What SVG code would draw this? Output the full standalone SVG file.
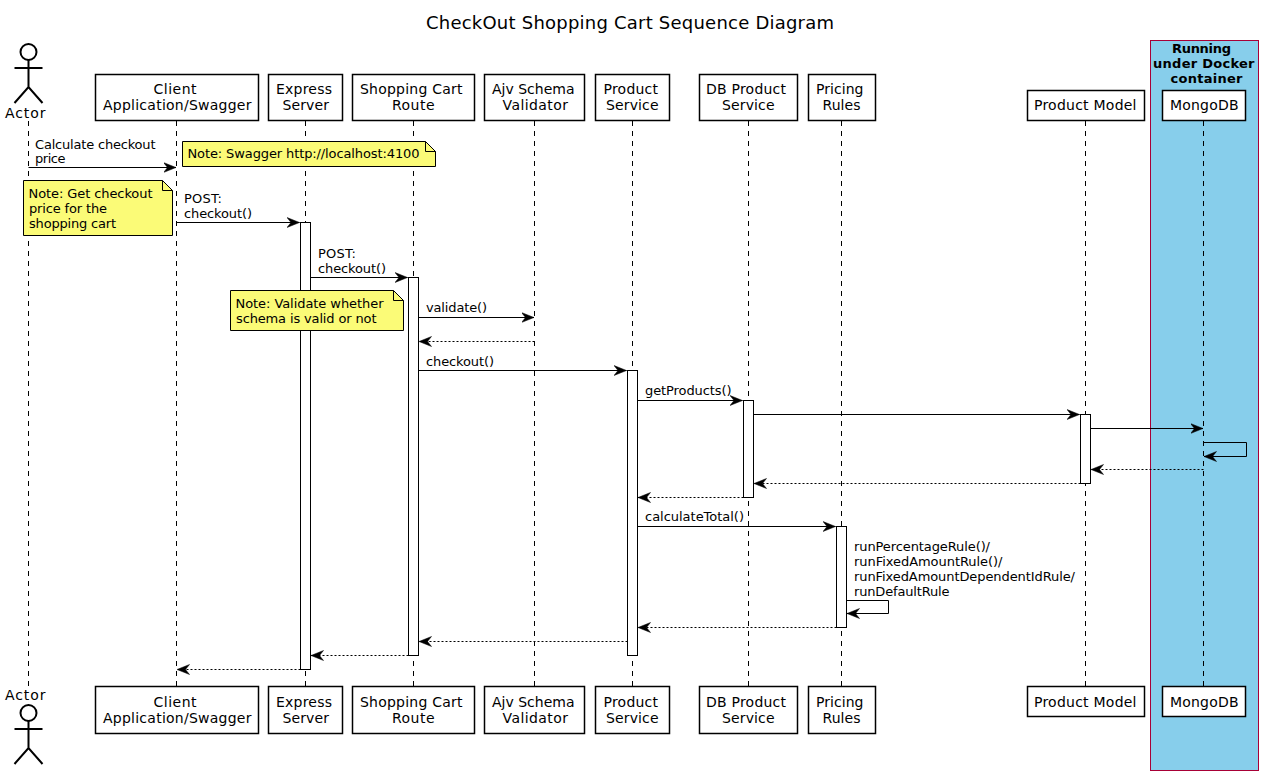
<svg xmlns="http://www.w3.org/2000/svg" width="1263" height="775" viewBox="0 0 1263 775">
<style>
text{font-family:"DejaVu Sans",sans-serif;fill:#000}
.p{font-size:14px}
.m{font-size:13px}
.title{font-size:18px}
.bx{font-size:13px;font-weight:bold}
.box{fill:#fff;stroke:#000;stroke-width:1.5}
.life{stroke:#000;stroke-width:1;stroke-dasharray:5 5;fill:none}
.bar{fill:#fff;stroke:#000;stroke-width:1}
.note{fill:#FBFB77;stroke:#000;stroke-width:1}
.fold{fill:none;stroke:#000;stroke-width:1}
.stick{fill:none;stroke:#000;stroke-width:2}
.s{fill:none;stroke:#000;stroke-width:1;marker-end:url(#a)}
.d{fill:none;stroke:#000;stroke-width:1;stroke-dasharray:2 2;marker-end:url(#a)}
</style>
<defs>
<marker id="a" markerUnits="userSpaceOnUse" markerWidth="14" markerHeight="12" refX="12.500" refY="6" orient="auto">
<path d="M0,1 L12.500,6 L0,11 L4,6 Z" fill="#000" stroke="#000" stroke-width="0.5"/>
</marker>
</defs>
<text class="title" x="426" y="29" textLength="408">CheckOut Shopping Cart Sequence Diagram</text>
<g id="docker-box">
<rect x="1150.500" y="40.500" width="108" height="730" fill="#87CEEB" stroke="#A80036" stroke-width="1"/>
<text class="bx" x="1172" y="53" textLength="59">Running</text>
<text class="bx" x="1153" y="68" textLength="101.500">under Docker</text>
<text class="bx" x="1170.500" y="83" textLength="72">container</text>
</g>
<g id="lifelines">
<path class="life" d="M28.500 121V686"/>
<path class="life" d="M176.500 121V686"/>
<path class="life" d="M305.500 121V686"/>
<path class="life" d="M413.500 121V686"/>
<path class="life" d="M534.500 121V686"/>
<path class="life" d="M632.500 121V686"/>
<path class="life" d="M748.500 121V686"/>
<path class="life" d="M841.500 121V686"/>
<path class="life" d="M1085.500 121V686"/>
<path class="life" d="M1203.500 121V686"/>
</g>
<g id="activations">
<rect class="bar" x="300.500" y="222.500" width="10" height="447"/>
<rect class="bar" x="408.500" y="277.500" width="10" height="378"/>
<rect class="bar" x="627.500" y="370.500" width="10" height="285"/>
<rect class="bar" x="743.500" y="400.500" width="10" height="97"/>
<rect class="bar" x="1080.500" y="414.500" width="10" height="69"/>
<rect class="bar" x="836.500" y="526.500" width="10" height="101"/>
</g>
<g id="actor-top">
<circle cx="28.500" cy="52" r="8" fill="#fff" stroke="#000" stroke-width="2"/>
<path class="stick" d="M28.500 60V87M14.500 68H42.500M14.500 103L28.500 87L42.500 103"/>
<text class="p" x="5" y="118" textLength="40.500">Actor</text>
</g>
<g id="actor-bottom">
<text class="p" x="5" y="700" textLength="40.500">Actor</text>
<circle cx="28.500" cy="713" r="8" fill="#fff" stroke="#000" stroke-width="2"/>
<path class="stick" d="M28.500 721V748M14.500 729H42.500M14.500 764L28.500 748L42.500 764"/>
</g>
<g id="client-top"><rect class="box" x="95.500" y="74.500" width="163" height="46"/><text class="p" x="153.500" y="94" textLength="43">Client</text><text class="p" x="103" y="110" textLength="148.500">Application/Swagger</text></g>
<g id="express-top"><rect class="box" x="268.500" y="74.500" width="74" height="46"/><text class="p" x="276" y="94" textLength="56">Express</text><text class="p" x="282.500" y="110" textLength="46.500">Server</text></g>
<g id="route-top"><rect class="box" x="352.500" y="74.500" width="122" height="46"/><text class="p" x="360" y="94" textLength="102.500">Shopping Cart</text><text class="p" x="392" y="110" textLength="42.500">Route</text></g>
<g id="ajv-top"><rect class="box" x="484.500" y="74.500" width="100" height="46"/><text class="p" x="492" y="94" textLength="82.500">Ajv Schema</text><text class="p" x="502.500" y="110" textLength="65.500">Validator</text></g>
<g id="product-top"><rect class="box" x="595.500" y="74.500" width="74" height="46"/><text class="p" x="603.500" y="94" textLength="54.500">Product</text><text class="p" x="606" y="110" textLength="52.500">Service</text></g>
<g id="db-top"><rect class="box" x="699.500" y="74.500" width="98" height="46"/><text class="p" x="706" y="94" textLength="80">DB Product</text><text class="p" x="722" y="110" textLength="52.500">Service</text></g>
<g id="pricing-top"><rect class="box" x="808.500" y="74.500" width="67" height="46"/><text class="p" x="816" y="94" textLength="47.500">Pricing</text><text class="p" x="822.500" y="110" textLength="38">Rules</text></g>
<g id="model-top"><rect class="box" x="1027.500" y="90.500" width="117" height="30"/><text class="p" x="1034" y="110" textLength="102.500">Product Model</text></g>
<g id="mongo-top"><rect class="box" x="1162.500" y="90.500" width="83" height="30"/><text class="p" x="1170" y="110" textLength="68.500">MongoDB</text></g>
<g id="client-bottom"><rect class="box" x="95.500" y="686.500" width="163" height="47"/><text class="p" x="153.500" y="707" textLength="43">Client</text><text class="p" x="103" y="723" textLength="148.500">Application/Swagger</text></g>
<g id="express-bottom"><rect class="box" x="268.500" y="686.500" width="74" height="47"/><text class="p" x="276" y="707" textLength="56">Express</text><text class="p" x="282.500" y="723" textLength="46.500">Server</text></g>
<g id="route-bottom"><rect class="box" x="352.500" y="686.500" width="122" height="47"/><text class="p" x="360" y="707" textLength="102.500">Shopping Cart</text><text class="p" x="392" y="723" textLength="42.500">Route</text></g>
<g id="ajv-bottom"><rect class="box" x="484.500" y="686.500" width="100" height="47"/><text class="p" x="492" y="707" textLength="82.500">Ajv Schema</text><text class="p" x="502.500" y="723" textLength="65.500">Validator</text></g>
<g id="product-bottom"><rect class="box" x="595.500" y="686.500" width="74" height="47"/><text class="p" x="603.500" y="707" textLength="54.500">Product</text><text class="p" x="606" y="723" textLength="52.500">Service</text></g>
<g id="db-bottom"><rect class="box" x="699.500" y="686.500" width="98" height="47"/><text class="p" x="706" y="707" textLength="80">DB Product</text><text class="p" x="722" y="723" textLength="52.500">Service</text></g>
<g id="pricing-bottom"><rect class="box" x="808.500" y="686.500" width="67" height="47"/><text class="p" x="816" y="707" textLength="47.500">Pricing</text><text class="p" x="822.500" y="723" textLength="38">Rules</text></g>
<g id="model-bottom"><rect class="box" x="1027.500" y="686.500" width="117" height="30"/><text class="p" x="1034" y="707" textLength="102.500">Product Model</text></g>
<g id="mongo-bottom"><rect class="box" x="1162.500" y="686.500" width="83" height="30"/><text class="p" x="1170" y="707" textLength="68.500">MongoDB</text></g>
<g id="connectors">
<path class="s" d="M28.500 167.500H176"/>
<path class="s" d="M176.500 222.500H299.500"/>
<path class="s" d="M310.500 277.500H407.500"/>
<path class="s" d="M418.500 317.500H534"/>
<path class="d" d="M534.500 341.500H419"/>
<path class="s" d="M418.500 370.500H626.500"/>
<path class="s" d="M637.500 400.500H742.500"/>
<path class="s" d="M753.500 414.500H1079.500"/>
<path class="s" d="M1090.500 428.500H1203"/>
<path class="s" d="M1203.500 442.500H1246.500V456.500H1204"/>
<path class="d" d="M1203.500 469.500H1091"/>
<path class="d" d="M1080.500 483.500H754"/>
<path class="d" d="M743.500 497.500H638"/>
<path class="s" d="M637.500 526.500H835.500"/>
<path class="s" d="M846.500 600.500H888.500V613.500H847"/>
<path class="d" d="M836.500 627.500H638"/>
<path class="d" d="M627.500 641.500H419"/>
<path class="d" d="M408.500 655.500H311"/>
<path class="d" d="M300.500 669.500H177"/>
</g>
<g id="labels">
<text class="m" x="35" y="148.500" textLength="120.500">Calculate checkout</text>
<text class="m" x="35" y="163" textLength="30.500">price</text>
<text class="m" x="184" y="203" textLength="38">POST:</text>
<text class="m" x="184" y="218" textLength="68">checkout()</text>
<text class="m" x="318" y="258" textLength="38">POST:</text>
<text class="m" x="318" y="273" textLength="68">checkout()</text>
<text class="m" x="426" y="312" textLength="61">validate()</text>
<text class="m" x="426" y="366" textLength="68">checkout()</text>
<text class="m" x="645" y="395" textLength="86.500">getProducts()</text>
<text class="m" x="645" y="521" textLength="99">calculateTotal()</text>
<text class="m" x="854" y="551" textLength="136">runPercentageRule()/</text>
<text class="m" x="854" y="566" textLength="148.500">runFixedAmountRule()/</text>
<text class="m" x="854" y="581" textLength="221">runFixedAmountDependentIdRule/</text>
<text class="m" x="854" y="596" textLength="95.500">runDefaultRule</text>
</g>
<g id="note-swagger">
<path class="note" d="M182.500 141.500H425.500L435.500 151.500V166.500H182.500Z"/>
<path class="fold" d="M425.500 141.500V151.500H435.500"/>
<text class="m" x="187.500" y="158" textLength="232">Note: Swagger http://localhost:4100</text>
</g>
<g id="note-checkout">
<path class="note" d="M23.500 180.500H162.500L172.500 190.500V235.500H23.500Z"/>
<path class="fold" d="M162.500 180.500V190.500H172.500"/>
<text class="m" x="28.500" y="198" textLength="124">Note: Get checkout</text>
<text class="m" x="29" y="213" textLength="78">price for the</text>
<text class="m" x="29" y="228" textLength="87">shopping cart</text>
</g>
<g id="note-validate">
<path class="note" d="M230.500 290.500H393.500L403.500 300.500V330.500H230.500Z"/>
<path class="fold" d="M393.500 290.500V300.500H403.500"/>
<text class="m" x="235.500" y="308" textLength="148">Note: Validate whether</text>
<text class="m" x="236" y="323" textLength="140.500">schema is valid or not</text>
</g>
</svg>
